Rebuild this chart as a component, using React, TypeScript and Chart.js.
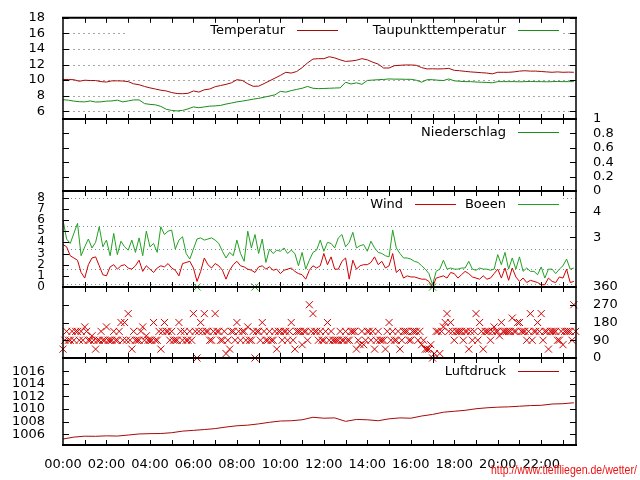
import { useEffect, useRef } from "react";
import { Chart, registerables } from "chart.js";

Chart.register(...registerables);

const FONT_FAMILY = '"DejaVu Sans", "Liberation Sans", sans-serif';

// ---------- x axis (hours of the day) ----------
const X_MAX_HOURS = 23.6;
const HOUR_LABEL_POS = [0, 2, 4, 6, 8, 10, 12, 14, 16, 18, 20, 22];
const HOUR_LABELS = ["00:00", "02:00", "04:00", "06:00", "08:00", "10:00", "12:00", "14:00", "16:00", "18:00", "20:00", "22:00"];
const HOUR_TICK_POS = [1, 2, 3, 4, 5, 6, 7, 8, 9, 10, 11, 12, 13, 14, 15, 16, 17, 18, 19, 20, 21, 22, 23];

// ---------- temperature panel (15 min steps) ----------
const TEMP_STEP_H = 0.25;
const TEMP_TICKS = [6, 8, 10, 12, 14, 16, 18];
const TEMP_GRID = [6, 8, 10, 12, 14, 16];
const TEMPERATUR = [
  10.07, 10.07, 10.05, 9.85, 9.98, 9.94, 9.94, 9.8, 9.75, 9.9,
  9.9, 9.88, 9.8, 9.52, 9.4, 9.18, 9.0, 8.85, 8.7, 8.6,
  8.4, 8.27, 8.25, 8.3, 8.6, 8.46, 8.75, 8.85, 9.15, 9.3,
  9.45, 9.65, 10.05, 9.95, 9.52, 9.2, 9.22, 9.55, 9.9, 10.25,
  10.6, 11.0, 10.9, 11.1, 11.6, 12.2, 12.7, 12.75, 12.75, 13.0,
  12.85, 12.6, 12.4, 12.45, 12.55, 12.75, 12.6, 12.3, 12.05, 11.55,
  11.55, 11.85, 11.9, 11.94, 11.94, 11.9, 11.6, 11.43, 11.45, 11.43,
  11.45, 11.5, 11.25, 11.2, 11.12, 11.05, 11.0, 10.95, 10.9, 10.8,
  11.0, 11.0, 11.0, 11.05, 11.15, 11.2, 11.15, 11.15, 11.1, 11.05,
  11.0, 11.05, 11.0, 11.02, 11.0,
];
const TAUPUNKT = [
  7.48, 7.42, 7.3, 7.22, 7.2, 7.32, 7.18, 7.2, 7.3, 7.32,
  7.42, 7.2, 7.32, 7.45, 7.45, 6.98, 6.88, 6.82, 6.62, 6.25,
  6.1, 6.04, 6.1, 6.3, 6.55, 6.45, 6.55, 6.65, 6.68, 6.75,
  6.92, 7.05, 7.2, 7.3, 7.42, 7.55, 7.65, 7.8, 7.95, 8.1,
  8.55, 8.45, 8.65, 8.8, 8.95, 9.18, 8.95, 8.9, 8.92, 8.95,
  8.98, 9.0, 9.72, 9.5, 9.65, 9.45, 9.95, 10.0, 10.05, 10.08,
  10.15, 10.12, 10.12, 10.1, 10.1, 9.98, 9.73, 10.05, 10.05, 9.98,
  9.94, 10.15, 9.9, 9.85, 9.8, 9.8, 9.75, 9.72, 9.7, 9.65,
  9.8, 9.8, 9.8, 9.8, 9.78, 9.8, 9.82, 9.8, 9.8, 9.78,
  9.8, 9.82, 9.8, 9.8, 9.8,
];

// ---------- precipitation panel (hourly) ----------
const RAIN_STEP_H = 1;
const RAIN_TICKS = [0, 0.2, 0.4, 0.6, 0.8, 1];
const NIEDERSCHLAG = [0, 0, 0, 0, 0, 0, 0, 0, 0, 0, 0, 0, 0, 0, 0, 0, 0, 0, 0, 0, 0, 0, 0, 0];

// ---------- wind panel (10 min steps, m/s) ----------
const WIND_STEP_H = 1 / 6;
const WIND_TICKS = [0, 1, 2, 3, 4, 5, 6, 7, 8];
const BFT_LIMITS = [0.3, 1.6, 3.4, 5.5, 8.0];
const BFT_LABEL_POS = [4.45, 6.75];
const BFT_LABELS = ["3", "4"];
const WIND = [
  3.8, 3.6, 2.8, 2.6, 2.4, 1.3, 0.8, 2.0, 2.6, 2.7,
  1.9, 1.1, 1.0, 1.8, 2.0, 1.6, 1.9, 2.0, 1.7, 1.6,
  1.9, 2.4, 1.4, 1.9, 1.6, 1.3, 1.7, 1.9, 1.8, 2.1,
  1.7, 1.5, 1.0, 2.1, 2.2, 2.3, 1.7, 0.5, 1.4, 2.6,
  2.0, 1.7, 2.1, 1.9, 1.5, 0.7, 1.5, 2.0, 2.3, 1.9,
  1.8, 1.6, 1.5, 1.3, 1.8, 1.9, 1.6, 1.8, 1.5, 1.6,
  1.2, 1.5, 1.6, 1.7, 1.4, 1.2, 1.1, 0.7, 1.5, 1.9,
  1.7, 1.9, 3.0, 2.0, 2.7, 1.6, 1.6, 2.3, 2.6, 0.7,
  2.4, 1.6, 1.9, 2.0, 2.0, 2.2, 2.7, 2.0, 2.3, 1.7,
  1.9, 3.0, 1.3, 1.6, 0.8, 1.0, 0.9, 0.9, 0.8, 0.7,
  0.7, 0.5, 0.0, 0.8, 0.9, 1.0, 0.8, 1.3, 1.2, 0.8,
  1.1, 1.4, 1.2, 0.9, 0.8, 0.7, 1.0, 0.7, 0.8, 1.2,
  1.6, 0.8, 1.7, 0.6, 1.7, 0.9, 0.5, 0.8, 0.4, 0.6,
  0.5, 0.4, 0.2, 0.2, 0.8, 0.5, 0.4, 0.9, 0.8, 1.6,
  0.4, 0.5,
];
const BOEEN = [
  6.0, 4.3, 3.9, 4.8, 5.7, 2.8, 3.6, 4.3, 3.5, 4.0,
  5.4, 3.6, 4.2, 2.8, 4.8, 2.9, 4.1, 3.6, 3.3, 4.2,
  3.1, 4.4, 2.8, 5.0, 3.6, 3.9, 3.1, 5.4, 4.7, 5.0,
  5.1, 3.4, 4.2, 4.5, 3.0, 2.5, 3.4, 4.3, 4.4, 4.2,
  4.3, 4.4, 4.2, 3.9, 3.2, 2.6, 3.1, 2.8, 4.2, 3.0,
  2.3, 5.0, 3.5, 4.7, 3.0, 4.3, 2.2, 3.4, 3.0, 3.3,
  3.2, 3.5, 3.0, 3.3, 3.0, 1.9, 3.1, 1.6, 2.4, 3.1,
  3.3, 4.2, 3.2, 4.0, 3.9, 3.5, 4.4, 4.7, 3.6, 4.0,
  4.9, 3.5, 3.7, 3.8, 3.2, 4.1, 3.5, 3.1, 3.0, 2.8,
  2.7, 5.1, 3.5, 3.0, 2.6, 2.6, 2.5, 2.3, 2.2, 1.9,
  1.6, 1.2, 0.2, 1.4, 1.6, 2.4, 1.6, 1.7, 1.6, 1.6,
  1.7, 1.7, 2.3, 1.6, 1.5, 1.7, 1.6, 1.6, 1.5, 1.6,
  2.9, 2.0, 3.1, 1.6, 2.6, 1.6, 2.7, 1.4, 1.7, 1.4,
  1.4, 1.1, 1.8, 0.8, 1.6, 1.6, 1.2, 1.6, 1.9, 2.5,
  1.6, 1.7,
];
const CALM_HOURS = [6.17, 8.83, 17.0];
const CALM_VALUES = [0, 0, 0];

// ---------- wind direction panel (degrees, readings on the full and half of each 10 min step) ----------
const DIR_TICKS = [0, 90, 180, 270, 360];
const DIR_HALF_STEP_H = 1 / 12;
const WINDRICHTUNG = [
  45, 135, 90, 90, 135, 135, 157.5, 90, 112.5, 45,
  90, 90, 157.5, 90, 135, 90, 180, 180, 225, 45,
  90, 90, 157.5, 112.5, 90, 180, 90, 45, 180, 135,
  135, 90, 180, 90, 90, 135, 225, 0, 180, 225,
  135, 90, 225, 135, 90, 22.5, 45, 135, 180, 90,
  135, 157.5, 90, 0, 135, 180, 90, 135, 90, 45,
  135, 135, 90, 180, 45, 135, 67.5, 135, 270, 225,
  135, 135, 90, 180, 135, 90, 90, 90, 135, 90,
  135, 45, 67.5, 67.5, 135, 90, 45, 135, 90, 45,
  180, 135, 90, 45, 135, 135, 90, 135, 90, 67.5,
  45, 45, 0, 135, 22.5, 157.5, 225, 180, 90, 135,
  135, 135, 45, 90, 225, 180, 45, 135, 90, 157.5,
  135, 180, 135, 135, 202.5, 135, 180, 135, 90, 225,
  135, 180, 225, 135, 45, 135, 135, 90, 67.5, 135,
  135, 270,
];
const WINDRICHTUNG_HALB = [
  90, 90, 135, 135, 90, 90, 135, 90, 90, 90,
  135, 90, 90, 90, 90, 135, 90, 90, 90, 135,
  90, 135, 90, 90, 90, 90, 135, 135, 135, 90,
  90, 90, 135, 135, 90, 90, 135, 135, 135, 135,
  90, 135, 135, 90, 135, 90, 135, 90, 135, 135,
  90, 90, 135, 135, 90, 135, 90, 90, 135, 135,
  90, 135, 135, 90, 135, 135, 135, 90, 135, 135,
  90, 90, 135, 90, 90, 90, 135, 90, 90, 135,
  135, 90, 135, 90, 135, 135, 90, 90, 90, 135,
  90, 90, 135, 90, 135, 90, 135, 135, 135, 90,
  45, 67.5, 22.5, 135, 135, 180, 135, 135, 135, 135,
  90, 135, 135, 135, 90, 135, 135, 135, 135, 135,
  112.5, 135, 135, 135, 135, 180, 135, 135, 135, 90,
  135, 135, 90, 135, 135, 135, 90, 135, 135, 135,
  90, 135,
];

// ---------- pressure panel (30 min steps, hPa) ----------
const PRESS_STEP_H = 0.5;
const PRESS_TICKS = [1006, 1008, 1010, 1012, 1014, 1016];
const LUFTDRUCK = [
  1005.25, 1005.55, 1005.7, 1005.68, 1005.75, 1005.72, 1005.88, 1006.05, 1006.1, 1006.12,
  1006.25, 1006.5, 1006.62, 1006.75, 1006.9, 1007.15, 1007.35, 1007.45, 1007.65, 1007.9,
  1008.1, 1008.15, 1008.3, 1008.7, 1008.55, 1008.6, 1008.05, 1008.35, 1008.3, 1008.15,
  1008.45, 1008.6, 1008.55, 1008.9, 1009.15, 1009.5, 1009.65, 1009.8, 1010.05, 1010.2,
  1010.3, 1010.35, 1010.45, 1010.55, 1010.6, 1010.8, 1010.85, 1011.0,
];

// ---------- colours ----------
const TEMP_RED = "#a80808";
const DEW_GREEN = "#1a8c1a";
const WIND_RED = "#d00000";
const GUST_GREEN = "#22a022";

const series = (values: number[], stepH: number, offsetH = 0) =>
  values.map((v, i) => ({ x: i * stepH + offsetH, y: v }));
const pairs = (xs: number[], ys: number[]) => xs.map((x, i) => ({ x, y: ys[i] }));

const gpPlugin = {
  id: "gp",
  beforeDatasetsDraw(chart: any, _a: any, o: any) {
    if (!o || !o.grid) return;
    const { ctx, chartArea: a } = chart;
    const sc = chart.scales[o.grid.scale];
    ctx.save();
    ctx.strokeStyle = o.grid.color;
    ctx.lineWidth = 1;
    ctx.setLineDash(o.grid.dash);
    for (const v of o.grid.values) {
      const y = Math.round(sc.getPixelForValue(v)) + 0.5;
      ctx.beginPath();
      ctx.moveTo(a.left, y);
      ctx.lineTo(a.right, y);
      ctx.stroke();
    }
    ctx.restore();
  },
  afterDatasetsDraw(chart: any, _a: any, o: any) {
    const { ctx, chartArea: a } = chart;
    const xs = chart.scales.x;
    ctx.save();
    if (o.legend) {
      const L = o.legend;
      const y = Math.round(a.top + L.dy) + 0.5;
      if (L.boxLeft) {
        ctx.fillStyle = "#fff";
        ctx.fillRect(a.right - L.boxLeft, a.top + 1, L.boxLeft - L.boxRight, L.boxHeight);
      }
      ctx.font = `13px ${FONT_FAMILY}`;
      ctx.textAlign = "right";
      ctx.textBaseline = "middle";
      for (const e of L.entries) {
        const x1 = a.right - e.off;
        const x0 = x1 - 41;
        ctx.strokeStyle = e.color;
        ctx.lineWidth = 1;
        ctx.beginPath();
        ctx.moveTo(x0, y);
        ctx.lineTo(x1, y);
        ctx.stroke();
        ctx.fillStyle = "#000";
        ctx.fillText(e.text, x0 - 12, y);
      }
    }
    ctx.strokeStyle = "#000";
    ctx.lineWidth = 1;
    ctx.beginPath();
    for (const h of HOUR_TICK_POS) {
      const x = Math.round(xs.getPixelForValue(h)) + 0.5;
      ctx.moveTo(x, a.top);
      ctx.lineTo(x, a.top + 5);
      ctx.moveTo(x, a.bottom);
      ctx.lineTo(x, a.bottom - 5);
    }
    for (const t of o.yTicks || []) {
      const sc = chart.scales[t.scale];
      for (const v of t.values) {
        const y = Math.round(sc.getPixelForValue(v)) + 0.5;
        if (t.left) {
          ctx.moveTo(a.left, y);
          ctx.lineTo(a.left + 6, y);
        }
        if (t.right) {
          ctx.moveTo(a.right, y);
          ctx.lineTo(a.right - 6, y);
        }
      }
    }
    ctx.stroke();
    ctx.lineWidth = 2;
    ctx.beginPath();
    ctx.moveTo(a.left - 1, a.top);
    ctx.lineTo(a.right + 1, a.top);
    ctx.moveTo(a.left - 1, a.bottom);
    ctx.lineTo(a.right + 1, a.bottom);
    ctx.stroke();
    ctx.lineWidth = 1.5;
    ctx.beginPath();
    ctx.moveTo(a.left, a.top);
    ctx.lineTo(a.left, a.bottom);
    ctx.moveTo(a.right, a.top);
    ctx.lineTo(a.right, a.bottom);
    ctx.stroke();
    ctx.restore();
  },
};

function yAxis(position: "left" | "right", min: number, max: number, ticks: number[], labels?: string[], size = 13) {
  return {
    type: "linear",
    position,
    min,
    max,
    afterBuildTicks: (s: any) => {
      s.ticks = ticks.map((v) => ({ value: v }));
    },
    afterFit: (s: any) => {
      s.width = position === "left" ? 63 : 64;
    },
    grid: { display: false },
    border: { display: false },
    ticks: {
      autoSkip: false,
      padding: position === "left" ? 10 : 9,
      color: "#000",
      font: { family: FONT_FAMILY, size },
      callback: (v: any, i: number) => (labels ? labels[i] : String(v)),
    },
  };
}

function xAxis(show: boolean) {
  return {
    type: "linear",
    min: 0,
    max: X_MAX_HOURS,
    display: show,
    position: "bottom",
    afterBuildTicks: (s: any) => {
      s.ticks = HOUR_LABEL_POS.map((v) => ({ value: v }));
    },
    afterFit: (s: any) => {
      s.height = show ? 35 : 0;
    },
    grid: { display: false },
    border: { display: false },
    ticks: {
      autoSkip: false,
      maxRotation: 0,
      padding: 4,
      color: "#000",
      font: { family: FONT_FAMILY, size: 13 },
      callback: (_v: any, i: number) => HOUR_LABELS[i],
    },
  };
}

function lineSet(data: any[], color: string, axis = "y") {
  return { data, borderColor: color, borderWidth: 1, pointRadius: 0, tension: 0, fill: false, yAxisID: axis };
}

function markSet(data: any[], color: string, axis = "y") {
  return {
    data,
    showLine: false,
    borderColor: color,
    backgroundColor: color,
    pointStyle: "crossRot",
    pointRadius: 5,
    pointBorderWidth: 1,
    yAxisID: axis,
    clip: false,
  };
}

type Panel = {
  top: number;
  bottom: number;
  left: boolean;
  right: boolean;
  xLabels: boolean;
  scales: Record<string, any>;
  datasets: any[];
  gp: any;
};

const PANELS: Panel[] = [
  {
    top: 17,
    bottom: 119,
    left: true,
    right: false,
    xLabels: false,
    scales: { y: yAxis("left", 5, 18, TEMP_TICKS) },
    datasets: [lineSet(series(TAUPUNKT, TEMP_STEP_H), DEW_GREEN), lineSet(series(TEMPERATUR, TEMP_STEP_H), TEMP_RED)],
    gp: {
      grid: { scale: "y", values: TEMP_GRID, color: "#a8a8a8", dash: [2, 3] },
      yTicks: [{ scale: "y", values: TEMP_TICKS, left: true, right: true }],
      legend: {
        dy: 12,
        boxLeft: 451,
        boxRight: 13,
        boxHeight: 22,
        entries: [
          { text: "Temperatur", color: TEMP_RED, off: 238 },
          { text: "Taupunkttemperatur", color: DEW_GREEN, off: 17 },
        ],
      },
    },
  },
  {
    top: 119,
    bottom: 191,
    left: false,
    right: true,
    xLabels: false,
    scales: { y2: yAxis("right", 0, 1, RAIN_TICKS) },
    datasets: [lineSet(series(NIEDERSCHLAG, RAIN_STEP_H), DEW_GREEN, "y2")],
    gp: {
      yTicks: [{ scale: "y2", values: RAIN_TICKS, left: true, right: true }],
      legend: { dy: 13, entries: [{ text: "Niederschlag", color: DEW_GREEN, off: 17 }] },
    },
  },
  {
    top: 191,
    bottom: 287,
    left: true,
    right: true,
    xLabels: false,
    scales: {
      y: yAxis("left", 0, 8.6, WIND_TICKS, undefined, 12),
      y2: yAxis("right", 0, 8.6, BFT_LABEL_POS, BFT_LABELS),
    },
    datasets: [
      markSet(pairs(CALM_HOURS, CALM_VALUES), GUST_GREEN),
      lineSet(series(BOEEN, WIND_STEP_H), GUST_GREEN),
      lineSet(series(WIND, WIND_STEP_H), WIND_RED),
    ],
    gp: {
      grid: { scale: "y", values: BFT_LIMITS, color: "#6f9696", dash: [1, 3] },
      yTicks: [
        { scale: "y", values: WIND_TICKS, left: true, right: false },
        { scale: "y2", values: BFT_LABEL_POS, left: false, right: true },
      ],
      legend: {
        dy: 13,
        boxLeft: 209,
        boxRight: 13,
        boxHeight: 19,
        entries: [
          { text: "Wind", color: WIND_RED, off: 120 },
          { text: "Boeen", color: GUST_GREEN, off: 17 },
        ],
      },
    },
  },
  {
    top: 287,
    bottom: 358,
    left: false,
    right: true,
    xLabels: false,
    scales: { y2: yAxis("right", 0, 360, DIR_TICKS) },
    datasets: [
      markSet(series(WINDRICHTUNG, WIND_STEP_H), WIND_RED, "y2"),
      markSet(series(WINDRICHTUNG_HALB, WIND_STEP_H, DIR_HALF_STEP_H), WIND_RED, "y2"),
    ],
    gp: {
      yTicks: [{ scale: "y2", values: DIR_TICKS, left: true, right: true }],
    },
  },
  {
    top: 358,
    bottom: 445,
    left: true,
    right: false,
    xLabels: true,
    scales: { y: yAxis("left", 1004.3, 1018.1, PRESS_TICKS) },
    datasets: [lineSet(series(LUFTDRUCK, PRESS_STEP_H), TEMP_RED)],
    gp: {
      yTicks: [{ scale: "y", values: PRESS_TICKS, left: true, right: true }],
      legend: { dy: 13, entries: [{ text: "Luftdruck", color: TEMP_RED, off: 17 }] },
    },
  },
];

function buildConfig(p: Panel): any {
  return {
    type: "line",
    data: { datasets: p.datasets },
    plugins: [gpPlugin],
    options: {
      responsive: false,
      animation: false,
      events: [],
      layout: {
        padding: {
          top: p.top,
          bottom: 480 - p.bottom - (p.xLabels ? 35 : 0),
          left: p.left ? 0 : 63,
          right: p.right ? 0 : 64,
        },
      },
      scales: { x: xAxis(p.xLabels), ...p.scales },
      plugins: {
        legend: { display: false },
        tooltip: { enabled: false },
        title: { display: false },
        gp: p.gp,
      },
    },
  };
}

export default function App() {
  const canvases = useRef<(HTMLCanvasElement | null)[]>([]);
  useEffect(() => {
    const charts = PANELS.map((p, i) => new Chart(canvases.current[i] as HTMLCanvasElement, buildConfig(p)));
    return () => charts.forEach((c) => c.destroy());
  }, []);
  return (
    <div style={{ position: "absolute", left: 0, top: 0, width: 640, height: 480, background: "#fff", overflow: "hidden" }}>
      {PANELS.map((_, i) => (
        <canvas
          key={i}
          ref={(el) => {
            canvases.current[i] = el;
          }}
          width={640}
          height={480}
          style={{ position: "absolute", left: 0, top: 0, width: 640, height: 480 }}
        />
      ))}
      <div
        style={{
          position: "absolute",
          right: 3,
          top: 464,
          font: '12px "Liberation Sans", Arial, sans-serif',
          lineHeight: "13px",
          color: "#ee1111",
          whiteSpace: "nowrap",
          transform: "scaleX(0.88)",
          transformOrigin: "right center",
        }}
      >
        http://www.tieffliegen.de/wetter/
      </div>
    </div>
  );
}
